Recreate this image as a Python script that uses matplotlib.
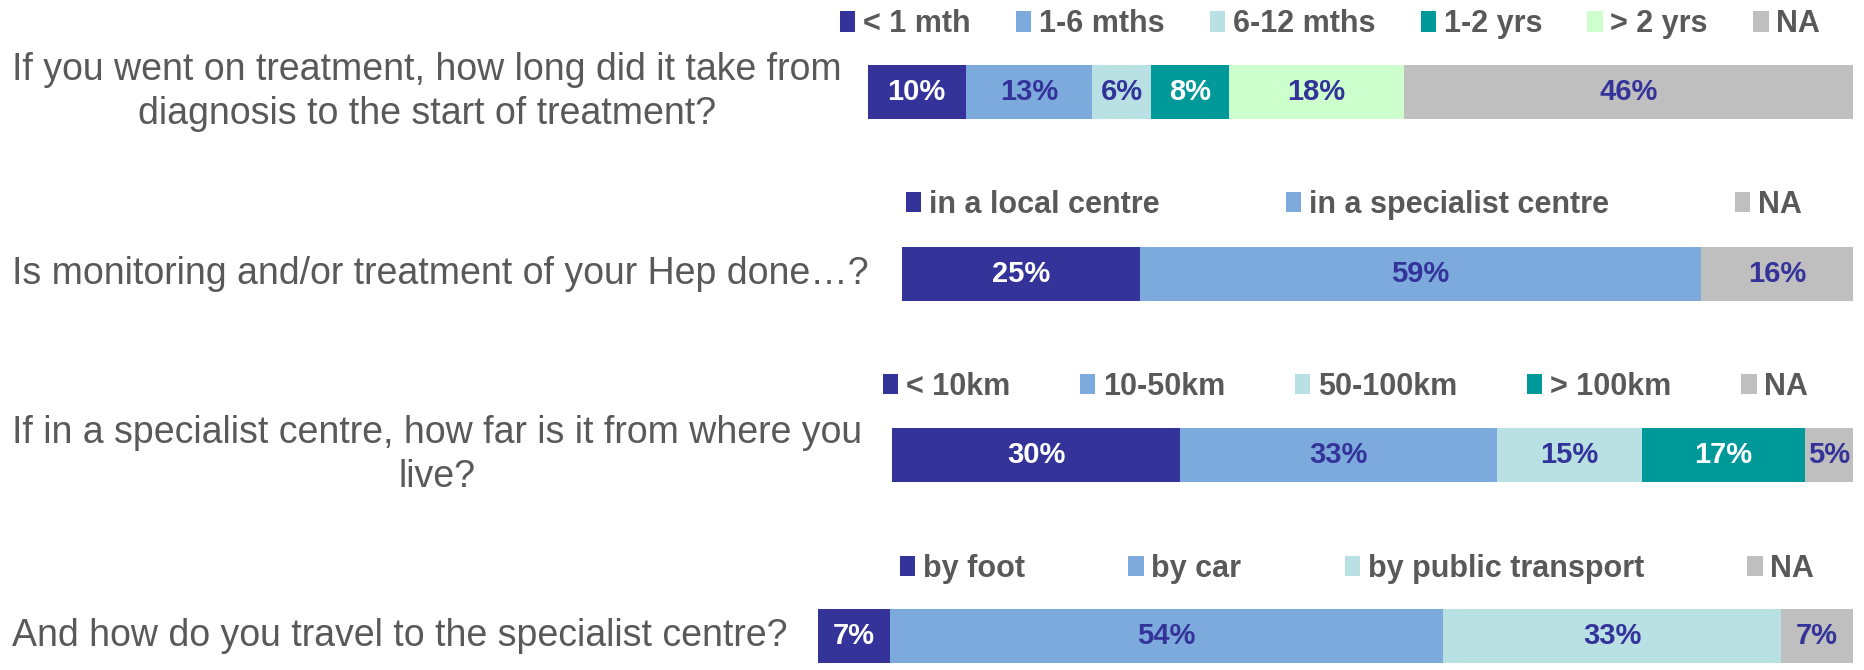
import matplotlib.pyplot as plt

plt.rcParams['font.family'] = ['Liberation Sans', 'DejaVu Sans']

questions = [
    'If you went on treatment, how long did it take from\ndiagnosis to the start of treatment?',
    'Is monitoring and/or treatment of your Hep done\u2026?',
    'If in a specialist centre, how far is it from where you\nlive?',
    'And how do you travel to the specialist centre?',
]

cats_wait = ['< 1 mth', '1-6 mths', '6-12 mths', '1-2 yrs', '> 2 yrs', 'NA']
vals_wait = [10, 13, 6, 8, 18, 46]

cats_where = ['in a local centre', 'in a specialist centre', 'NA']
vals_where = [25, 59, 16]

cats_dist = ['< 10km', '10-50km', '50-100km', '> 100km', 'NA']
vals_dist = [30, 33, 15, 17, 5]

cats_travel = ['by foot', 'by car', 'by public transport', 'NA']
vals_travel = [7, 54, 33, 7]

navy = '#333399'
blue = '#7DAADC'
cyan = '#B9E0E3'
teal = '#009999'
green = '#CCFFCC'
grey = '#BFBFBF'
text_grey = '#595959'

panels = [
    (cats_wait, vals_wait, [navy, blue, cyan, teal, green, grey]),
    (cats_where, vals_where, [navy, blue, grey]),
    (cats_dist, vals_dist, [navy, blue, cyan, teal, grey]),
    (cats_travel, vals_travel, [navy, blue, cyan, grey]),
]

# layout in figure fractions: bar axes [left, bottom, width, height]
bar_rects = [
    [0.4654, 0.8224, 0.5282, 0.0806],
    [0.4836, 0.5507, 0.5100, 0.0806],
    [0.4783, 0.2806, 0.5153, 0.0806],
    [0.4386, 0.0104, 0.5550, 0.0806],
]
# legend boxes: x0, x1, y centre
legend_boxes = [
    (0.4504, 0.9759, 0.964),
    (0.4858, 0.9662, 0.694),
    (0.4734, 0.9695, 0.423),
    (0.4826, 0.9727, 0.151),
]

fig = plt.figure(figsize=(18.65, 6.70), dpi=100)

for q, (cats, vals, cols), rect, (lx0, lx1, ly) in zip(questions, panels, bar_rects, legend_boxes):
    ax = fig.add_axes(rect)
    left = 0
    for c, v, col in zip(cats, vals, cols):
        ax.barh(0, v, left=left, height=1, color=col, label=c)
        tc = 'white' if col in (navy, teal) else navy
        ax.text(left + v / 2, 0, f'{v}%', ha='center', va='center',
                color=tc, fontsize=21, fontweight='bold')
        left += v
    ax.set_xlim(0, left)
    ax.set_ylim(-0.5, 0.5)
    ax.axis('off')

    ax.legend(loc='center', bbox_to_anchor=(lx0, ly - 0.03, lx1 - lx0, 0.06),
              bbox_transform=fig.transFigure, mode='expand', ncol=len(cats),
              frameon=False, handlelength=0.5, handleheight=0.65,
              handletextpad=0.25, borderaxespad=0, borderpad=0,
              prop=dict(weight='bold', size=22), labelcolor=text_grey)

    yc = rect[1] + rect[3] / 2
    fig.text(0.0064, yc, q, ha='left', va='center', multialignment='center',
             fontsize=27, color=text_grey, linespacing=1.3)

fig.savefig('out.png', dpi=100)
